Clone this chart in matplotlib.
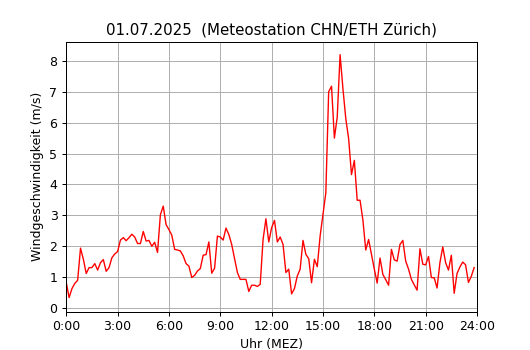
import numpy as np
import matplotlib
matplotlib.use('Agg')
import matplotlib.pyplot as plt

# Windgeschwindigkeit alle 10 Minuten (m/s), 01.07.2025
wind = [0.83, 0.34, 0.63, 0.80, 0.90, 1.94, 1.58, 1.12, 1.31, 1.31,
        1.44, 1.23, 1.47, 1.57, 1.19, 1.31, 1.63, 1.75, 1.83, 2.20,
        2.28, 2.18, 2.28, 2.39, 2.30, 2.09, 2.09, 2.48, 2.17, 2.19,
        2.00, 2.13, 1.80, 3.02, 3.30, 2.70, 2.54, 2.36, 1.90, 1.88,
        1.85, 1.69, 1.44, 1.36, 0.99, 1.06, 1.20, 1.28, 1.71, 1.73,
        2.14, 1.13, 1.29, 2.33, 2.30, 2.20, 2.59, 2.38, 2.06, 1.60,
        1.15, 0.93, 0.93, 0.93, 0.54, 0.74, 0.74, 0.70, 0.77, 2.22,
        2.89, 2.14, 2.60, 2.84, 2.14, 2.30, 2.06, 1.15, 1.26, 0.46,
        0.63, 1.04, 1.26, 2.19, 1.74, 1.60, 0.82, 1.58, 1.34, 2.33,
        3.03, 3.73, 7.00, 7.18, 5.50, 6.18, 8.20, 7.10, 6.13, 5.48,
        4.32, 4.78, 3.49, 3.49, 2.85, 1.88, 2.22, 1.74, 1.26, 0.81,
        1.62, 1.09, 0.92, 0.74, 1.90, 1.56, 1.52, 2.06, 2.19, 1.52,
        1.26, 0.93, 0.75, 0.58, 1.92, 1.42, 1.40, 1.67, 0.99, 0.98,
        0.65, 1.47, 1.98, 1.47, 1.23, 1.71, 0.48, 1.12, 1.33, 1.49,
        1.40, 0.83, 1.03, 1.31]
minutes = np.arange(0, 1440, 10)
hours = minutes / 60.0

tick_pos = [0, 3, 6, 9, 12, 15, 18, 21, 24]
tick_labels = ['0:00', '3:00', '6:00', '9:00', '12:00', '15:00', '18:00', '21:00', '24:00']

fig, ax = plt.subplots(figsize=(530 / 90, 350 / 90), dpi=90)
ax.plot(hours, wind, color='red', linewidth=1.1)
ax.set_xlim(0, 24)
ax.set_ylim(-0.11, 8.61)
ax.set_xticks(tick_pos)
ax.set_xticklabels(tick_labels)
ax.grid(True)
ax.set_xlabel('Uhr (MEZ)')
ax.set_ylabel('Windgeschwindigkeit (m/s)')
ax.set_title('01.07.2025  (Meteostation CHN/ETH Zürich)')

plt.savefig('out.png', dpi=90)
